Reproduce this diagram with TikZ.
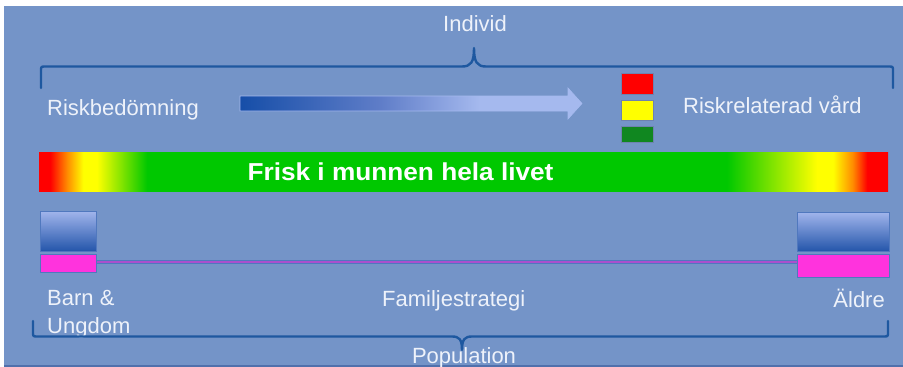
\documentclass[tikz,border=0pt]{standalone}
\usepackage{fontspec}
\setmainfont{Liberation Sans}
\definecolor{bg}{RGB}{116,148,200}
\definecolor{txt}{RGB}{238,242,250}
\definecolor{brc}{RGB}{30,88,160}
\definecolor{rr}{RGB}{255,0,0}
\definecolor{oo}{RGB}{255,140,0}
\definecolor{yy}{RGB}{255,255,0}
\definecolor{gg}{RGB}{0,200,0}
\definecolor{tgreen}{RGB}{16,135,32}
\definecolor{tbord}{RGB}{110,130,175}
\definecolor{adark}{RGB}{22,78,168}
\definecolor{amid}{RGB}{95,125,200}
\definecolor{alight}{RGB}{165,185,238}
\definecolor{blight}{RGB}{160,180,235}
\definecolor{bdark}{RGB}{35,85,170}
\definecolor{bbord}{RGB}{80,120,190}
\definecolor{pink}{RGB}{255,51,221}
\definecolor{lpurple}{RGB}{170,80,205}
\definecolor{edge}{RGB}{80,112,172}
\pgfdeclarehorizontalshading{rainbow}{100bp}{color(0bp)=(rr); color(25.65bp)=(rr); color(26.65bp)=(oo); color(27.6bp)=(yy); color(28.4bp)=(yy); color(31.36bp)=(gg); color(65.5bp)=(gg); color(70.8bp)=(yy); color(71.75bp)=(yy); color(72.9bp)=(oo); color(73.76bp)=(rr); color(100bp)=(rr)}
\pgfdeclarehorizontalshading{arrowshade}{100bp}{color(0bp)=(adark); color(25bp)=(adark); color(45.5bp)=(amid); color(60bp)=(alight); color(100bp)=(alight)}
\tikzset{
  lbl/.style={text=txt, font=\fontsize{22}{26}\selectfont, inner sep=0pt},
  brace/.style={draw=brc, line width=2.4pt, line cap=round, line join=round},
  lightbox/.style={draw=tbord, line width=0.8pt, minimum width=32pt, inner sep=0pt, anchor=north west},
  bluebox/.style={draw=bbord, line width=0.8pt, top color=blight, bottom color=bdark, inner sep=0pt, anchor=north west},
  pinkbox/.style={draw=bbord, line width=0.8pt, fill=pink, inner sep=0pt, anchor=north west},
}
\begin{document}
\begin{tikzpicture}[x=1pt,y=-1pt]
\useasboundingbox (0,0) rectangle (903,367);
\fill[white] (0,0) rectangle (903,367);
\fill[bg] (4,6) rectangle (903,367);
\draw[edge, line width=1.5pt] (4,366.2) -- (903,366.2);

% top brace
\draw[brace] (41,88) -- (41,71) .. controls (41,66.5) .. (45.5,66.5) -- (462,66.5)
  .. controls (471,66.5) and (474,62) .. (474,48)
  .. controls (474,62) and (477,66.5) .. (486,66.5) -- (888.5,66.5)
  .. controls (893,66.5) .. (893,71) -- (893,88);
\node[lbl, anchor=base] (individ) at (475,31.5) {Individ};

\node[lbl, anchor=base west] (risk) at (47,115) {Riskbedömning};
\node[lbl, anchor=base west] (riskrel) at (683,113) {Riskrelaterad vård};

% arrow
\shade[shading=arrowshade, draw=alight, line width=0.6pt]
  (240,96) -- (568,96) -- (568,88) -- (582,103.5) -- (568,119) -- (568,111) -- (240,111) -- cycle;

% traffic lights
\node[lightbox, fill=rr, minimum height=21pt] (red) at (621,73) {};
\node[lightbox, fill=yy, minimum height=20pt] (yellow) at (621,100) {};
\node[lightbox, fill=tgreen, minimum height=16pt] (green) at (621,126) {};

% rainbow bar
\node[anchor=north west, minimum width=849pt, minimum height=39pt, inner sep=0pt, shading=rainbow] (bar) at (39,152) {};
\node[text=white, font=\fontsize{24.5}{28}\selectfont\bfseries, inner sep=0pt, anchor=base, xscale=1.07] (frisk) at (400.5,180) {Frisk i munnen hela livet};

% boxes
\node[bluebox, minimum width=56pt, minimum height=40pt] (bb1) at (40,211) {};
\node[pinkbox, minimum width=56pt, minimum height=18pt] (pk1) at (40,254) {};
\node[bluebox, minimum width=92pt, minimum height=39pt] (bb2) at (797,212) {};
\node[pinkbox, minimum width=92pt, minimum height=23pt] (pk2) at (797,254) {};
\draw[bbord, line width=3.2pt] ([yshift=1.5pt]pk1.east) -- ([yshift=1.5pt]pk1.east -| pk2.west);
\draw[lpurple, line width=1.8pt] ([yshift=1.5pt]pk1.east) -- ([yshift=1.5pt]pk1.east -| pk2.west);

\node[lbl, anchor=base west] (barn) at (47,305) {Barn \&};
\node[lbl, anchor=base west] (ungdom) at (47,333) {Ungdom};
\node[lbl, anchor=base west] (familj) at (382,306) {Familjestrategi};
\node[lbl, anchor=base east] (aldre) at (885,307) {Äldre};

% bottom brace
\draw[brace] (33,321) -- (33,332) .. controls (33,336.5) .. (37.5,336.5) -- (452,336.5)
  .. controls (459,336.5) and (462,339) .. (462,350)
  .. controls (462,339) and (465,336.5) .. (472,336.5) -- (883.5,336.5)
  .. controls (888,336.5) .. (888,332) -- (888,321);
\node[lbl, anchor=base] (population) at (464,363) {Population};
\end{tikzpicture}
\end{document}
